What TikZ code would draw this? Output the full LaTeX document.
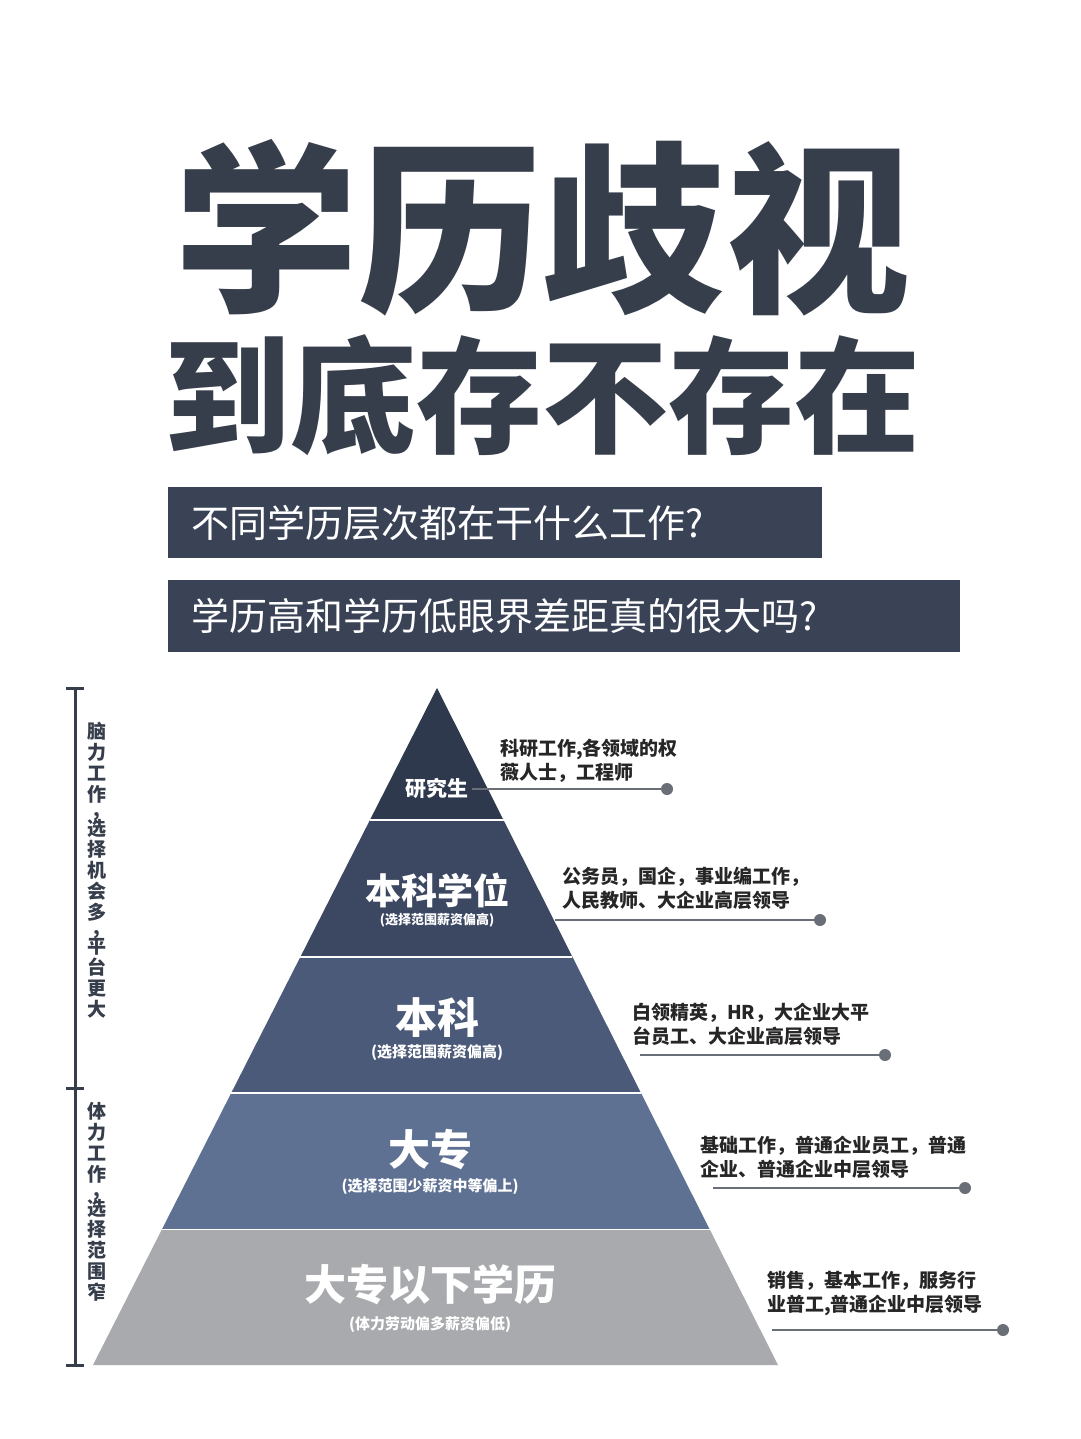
\documentclass[tikz,border=0pt]{standalone}
\usepackage{fontspec}
\newfontfamily\cjk{Noto Sans CJK SC}
\usetikzlibrary{calc}
\definecolor{ink}{HTML}{363D4B}
\definecolor{boxc}{HTML}{3A4356}
\definecolor{l1}{HTML}{2F394D}
\definecolor{l2}{HTML}{3C4862}
\definecolor{l3}{HTML}{4A5A78}
\definecolor{l4}{HTML}{5E7193}
\definecolor{l5}{HTML}{A9AAAD}
\definecolor{leader}{HTML}{6A6E76}
\tikzset{
 lab/.style={font=\cjk\bfseries\fontsize{19}{24}\selectfont, text=black!85, anchor=south west, align=left, inner sep=0pt},
 lead/.style={draw=leader, line width=2.5pt},
 dotc/.style={circle, fill=leader, inner sep=0pt, minimum size=12pt},
 big/.style={font=\cjk\bfseries, text=white, inner sep=0pt},
 sub/.style={font=\cjk\bfseries\fontsize{15}{18}\selectfont, text=white!85, inner sep=0pt},
 vert/.style={font=\cjk\bfseries\fontsize{19}{21}\selectfont, text=ink, text width=20pt, align=center, inner sep=0pt, anchor=north}
}
\newcommand{\vc}{\\[-6pt]{\fontsize{19}{12}\selectfont ,}\\[-2pt]}
\begin{document}
\begin{tikzpicture}[x=1pt,y=-1pt]
\useasboundingbox[fill=white] (0,0) rectangle (1080,1439);
% titles
\node[font=\cjk\bfseries\fontsize{184}{184}\selectfont, text=ink] (t1) at (542,228) {学历歧视};
\node[font=\cjk\bfseries\fontsize{126}{126}\selectfont, text=ink] (t2) at (542,395) {到底存不存在};
\fill[boxc] (168,487) rectangle (822,558);
\node[font=\cjk\fontsize{38}{40}\selectfont, text=white, anchor=west] (q1) at (188,523) {不同学历层次都在干什么工作?};
\fill[boxc] (168,580) rectangle (960,652);
\node[font=\cjk\fontsize{38}{40}\selectfont, text=white, anchor=west] (q2) at (188,616) {学历高和学历低眼界差距真的很大吗?};
% pyramid
\coordinate (A) at (437,688);
\coordinate (BL) at (93,1365);
\coordinate (BR) at (778,1365);
\foreach \a/\b/\c in {0/0.195/l1,0.195/0.397/l2,0.397/0.598/l3,0.598/0.8/l4,0.8/1/l5}{
  \fill[\c] ($(A)!\a!(BL)$) -- ($(A)!\b!(BL)$) -- ($(A)!\b!(BR)$) -- ($(A)!\a!(BR)$) -- cycle;
}
\foreach \b in {0.195,0.397,0.598,0.8}{
  \draw[white, line width=1.5pt] ($(A)!\b!(BL)$) -- ($(A)!\b!(BR)$);
}
\node[big, font=\cjk\bfseries\fontsize{21}{24}\selectfont] (p1) at (437,788) {研究生};
\node[big, font=\cjk\bfseries\fontsize{36}{40}\selectfont] (p2) at (437,890) {本科学位};
\node[sub, font=\cjk\bfseries\fontsize{13}{15}\selectfont] (s2) at (437,920) {(选择范围薪资偏高)};
\node[big, font=\cjk\bfseries\fontsize{42}{44}\selectfont] (p3) at (437,1018) {本科};
\node[sub] (s3) at (437,1053) {(选择范围薪资偏高)};
\node[big, font=\cjk\bfseries\fontsize{42}{44}\selectfont] (p4) at (430,1150) {大专};
\node[sub] (s4) at (430,1187) {(选择范围少薪资中等偏上)};
\node[big, font=\cjk\bfseries\fontsize{42}{44}\selectfont] (p5) at (430,1285) {大专以下学历};
\node[sub] (s5) at (430,1325) {(体力劳动偏多薪资偏低)};
% leaders
\coordinate (e1) at (472,789); \node[dotc] (d1) at (667,789) {};
\coordinate (e2) at (555,920); \node[dotc] (d2) at (820,920) {};
\coordinate (e3) at (640,1055); \node[dotc] (d3) at (885,1055) {};
\coordinate (e4) at (713,1188); \node[dotc] (d4) at (965,1188) {};
\coordinate (e5) at (772,1330); \node[dotc] (d5) at (1003,1330) {};
\foreach \i in {1,...,5}{\draw[lead] (e\i) -- (d\i);}
\node[lab] (r1) at (500,783) {科研工作,各领域的权\\薇人士，工程师};
\node[lab] (r2) at (562,910) {公务员，国企，事业编工作，\\人民教师、大企业高层领导};
\node[lab] (r3) at (632,1046) {白领精英，HR，大企业大平\\台员工、大企业高层领导};
\node[lab] (r4) at (700,1179) {基础工作，普通企业员工，普通\\企业、普通企业中层领导};
\node[lab] (r5) at (767,1316) {销售，基本工作，服务行\\业普工,普通企业中层领导};
% left bracket
\draw[ink, line width=3pt] (75,688) -- (75,1365);
\foreach \y in {688,1088,1365}{\draw[ink, line width=3pt] (66,\y) -- (84,\y);}
\node[vert] (v1) at (97,722) {脑\\力\\工\\作\vc 选\\择\\机\\会\\多\vc 平\\台\\更\\大};
\node[vert] (v2) at (97,1102) {体\\力\\工\\作\vc 选\\择\\范\\围\\窄};
\end{tikzpicture}
\end{document}
